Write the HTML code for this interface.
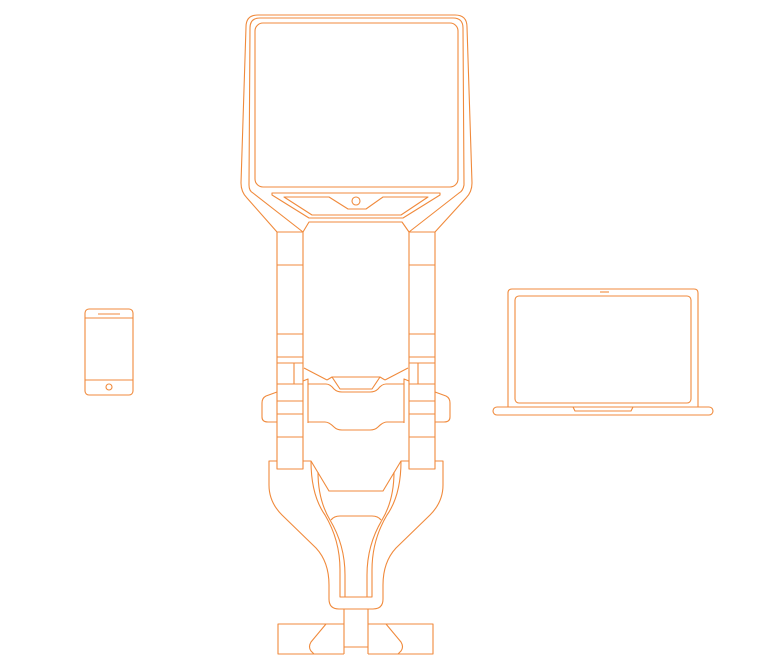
<!DOCTYPE html>
<html><head><meta charset="utf-8"><style>html,body{margin:0;padding:0;background:#fff}svg{display:block}</style></head>
<body>
<svg width="768" height="662" viewBox="0 0 768 662" xmlns="http://www.w3.org/2000/svg" fill="none" stroke="#f08a3c" stroke-width="1.1" stroke-linejoin="round">
<!-- top monitor -->
<path d="M241,183 L246,27 Q246,15 258,15 L455,15 Q467,15 467,27 L472,183 Q472,192 466,198 L435,232"/>
<path d="M241,183 Q241,192 247,198 L277,232"/>
<path d="M249,185 L250,28 Q250,18 260,18 L453,18 Q463,18 463,28 L464,185 Q463,191 459,193 L409,232"/>
<path d="M249,185 Q249,191 253,193 L303,232"/>
<rect x="255" y="23" width="203" height="164" rx="8"/>
<path d="M272,193 L440,193 L440,195 L403,218 L309,218 L272,195 Z"/>
<path d="M284,197 L329,197 L348,209 L366,209 L383,197 L428,197 L401,215 L312,215 Z"/>
<circle cx="356" cy="201" r="4"/>
<path d="M303,232 L309,222 L402,222 L409,232"/>
<!-- columns -->
<rect x="277" y="232" width="26" height="237"/>
<rect x="409" y="232" width="26" height="237"/>
<path d="M277,265H303M277,334H303M277,357H303M277,363H303M277,384H303M277,401H303M277,414H303M277,437H303"/>
<path d="M409,265H435M409,334H435M409,357H435M409,363H435M409,384H435M409,401H435M409,414H435M409,437H435"/>
<path d="M294,363V384M418,363V384"/>
<!-- middle cross piece -->
<path d="M304,368 L327,380 M408,368 L385,380"/>
<path d="M332,377 L380,377 L372,389 L340,389 Z"/>
<path d="M327,380 L332,377 M385,380 L380,377"/>
<path d="M308,384 L326,384 Q330,384 334,389 Q337,392 342,392 L370,392 Q375,392 378,389 Q382,384 386,384 L404,384"/>
<path d="M303,381 L308,379 L308,423 M409,381 L404,379 L404,423"/>
<path d="M308,422 L325,422 Q329,422 334,427 Q337,430 342,430 L370,430 Q375,430 378,427 Q383,422 387,422 L404,422"/>
<!-- side handles -->
<path d="M277,392 L266,396 Q262,398 262,403 L262,417 Q262,422 268,422 L277,422"/>
<path d="M435,392 L446,396 Q450,398 450,403 L450,417 Q450,422 444,422 L435,422"/>
<!-- fork -->
<path d="M277,461 L269,461 L269,485 Q269,502 282,515 L316,548 Q329,562 329,585 L329,599 Q329,609 339,609 L373,609 Q383,609 383,599 L383,585 Q383,562 396,548 L430,515 Q443,502 443,485 L443,461 L435,461"/>
<path d="M303,461 L311,461 L329,491 L383,491 L401,461 L409,461"/>
<path d="M311,461 Q311,495 325,515 Q340,540 340,570 L340,597 L372,597 L372,570 Q372,540 387,515 Q401,495 401,461"/>
<path d="M318,472 Q318,500 330,520 Q345,545 345,575 L345,597 M394,472 Q394,500 382,520 Q367,545 367,575 L367,597"/>
<path d="M331,520 Q334,516 340,516 L372,516 Q378,516 381,520"/>
<!-- base -->
<path d="M344,609 V654 M368,609 V654 M344,647 H368"/>
<path d="M344,624 H278 V654 H344"/>
<path d="M368,624 H433 V654 H368"/>
<path d="M326,624 L311,642 Q308,647 311,651 L314,654"/>
<path d="M386,624 L401,642 Q404,647 401,651 L398,654"/>
<!-- phone -->
<rect x="85" y="309" width="48" height="86" rx="4"/>
<path d="M85,318H133M85,380H133M98,314H120"/>
<circle cx="109" cy="387" r="3"/>
<!-- laptop -->
<path d="M508,407 V293 Q508,289 512,289 L694,289 Q698,289 698,293 V407"/>
<rect x="515" y="296" width="176" height="107" rx="4"/>
<path d="M600,292H609"/>
<rect x="493" y="407" width="220" height="8" rx="4"/>
<path d="M573,407 L575,411 L631,411 L633,407"/>
</svg>
</body></html>
